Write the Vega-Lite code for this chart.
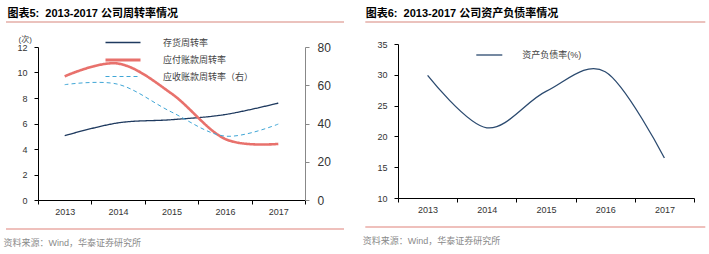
{
  "$schema": "https://vega.github.io/schema/vega-lite/v6.json",
  "background": "white",
  "padding": {"left": 3, "top": 8, "right": 0, "bottom": 0},
  "config": {
    "font": "Liberation Sans, Noto Sans CJK SC",
    "view": {"stroke": null},
    "axis": {"grid": false, "labelColor": "#333", "labelFontSize": 9, "domainColor": "#000", "tickColor": "#000", "tickSize": 4, "labelFont": "Liberation Sans, Noto Sans CJK SC"},
    "axisX": {"labelPadding": 3, "labelAngle": 0, "tickBand": "extent"},
    "axisY": {"labelPadding": 7},
    "legend": {"labelFont": "Liberation Sans, Noto Sans CJK SC", "labelFontSize": 9, "labelColor": "#444", "padding": 0}
  },
  "spacing": 17,
  "resolve": {"scale": {"color": "independent", "strokeDash": "independent"}, "legend": {"color": "independent", "strokeDash": "independent"}},
  "hconcat": [
    {
      "spacing": 12,
      "resolve": {"scale": {"color": "independent", "strokeDash": "independent"}, "legend": {"color": "independent", "strokeDash": "independent"}},
      "vconcat": [
        {
          "width": 306,
          "height": 0.5,
          "title": {"text": "图表5:\u00a0\u00a02013-2017 公司周转率情况", "anchor": "start", "fontSize": 11, "fontWeight": "bold", "color": "#000", "baseline": "alphabetic", "offset": -7, "dx": 2},
          "data": {"values": [{"panel": "图表5"}]},
          "mark": {"type": "rule", "color": "#D8857C", "strokeWidth": 1.2},
          "encoding": {
            "x": {"datum": -0.10458, "type": "quantitative", "scale": {"domain": [0, 1]}, "axis": null},
            "x2": {"datum": 1},
            "y": {"datum": 1, "type": "quantitative", "scale": {"domain": [0, 1]}, "axis": null}
          }
        },
        {
          "width": 267,
          "height": 153,
          "data": {"values": [
            {"year": "2013", "series": "存货周转率", "value": 5.05},
            {"year": "2014", "series": "存货周转率", "value": 6.05},
            {"year": "2015", "series": "存货周转率", "value": 6.3},
            {"year": "2016", "series": "存货周转率", "value": 6.7},
            {"year": "2017", "series": "存货周转率", "value": 7.6},
            {"year": "2013", "series": "应付账款周转率", "value": 9.7},
            {"year": "2014", "series": "应付账款周转率", "value": 10.7},
            {"year": "2015", "series": "应付账款周转率", "value": 8.35},
            {"year": "2016", "series": "应付账款周转率", "value": 4.8},
            {"year": "2017", "series": "应付账款周转率", "value": 4.4},
            {"year": "2013", "series": "应收账款周转率（右）", "value": 60.3},
            {"year": "2014", "series": "应收账款周转率（右）", "value": 60.5},
            {"year": "2015", "series": "应收账款周转率（右）", "value": 46},
            {"year": "2016", "series": "应收账款周转率（右）", "value": 33.4},
            {"year": "2017", "series": "应收账款周转率（右）", "value": 39.7}
          ]},
          "layer": [
            {
              "transform": [{"filter": "datum.series !== '应收账款周转率（右）'"}],
              "mark": {"type": "line", "interpolate": "cardinal"},
              "encoding": {
                "x": {"field": "year", "type": "ordinal", "scale": {"type": "band", "paddingInner": 0, "paddingOuter": 0}, "axis": {"title": null}},
                "y": {"field": "value", "type": "quantitative", "scale": {"domain": [0, 12]}, "axis": {"values": [0, 2, 4, 6, 8, 10, 12], "title": "(次)", "titleAngle": 0, "titleX": -20, "titleY": -8, "titleAlign": "left", "titleBaseline": "middle", "titleFontSize": 8, "titleFontWeight": "normal", "titleColor": "#444"}},
                "color": {"field": "series", "type": "nominal", "scale": {"domain": ["存货周转率", "应付账款周转率", "应收账款周转率（右）"], "range": ["#1F3A5F", "#E8716C", "#3FA6D6"]},
                  "legend": {"title": null, "orient": "none", "legendX": 80.5, "legendY": -9, "symbolType": "M-3.5,0H3.5", "symbolSize": 100, "labelOffset": 35.5, "rowPadding": 5.5,
                    "encode": {"symbols": {"update": {"strokeWidth": {"signal": "datum.value === '应付账款周转率' ? 3 : (datum.value === '存货周转率' ? 1.3 : 1)"}}}}}},
                "strokeDash": {"field": "series", "type": "nominal", "scale": {"domain": ["存货周转率", "应付账款周转率", "应收账款周转率（右）"], "range": [[1, 0], [1, 0], [4, 3]]}},
                "strokeWidth": {"condition": {"test": "datum.series === '应付账款周转率'", "value": 2.6}, "value": 1.3}
              }
            },
            {
              "transform": [{"filter": "datum.series === '应收账款周转率（右）'"}],
              "mark": {"type": "line", "interpolate": "cardinal", "strokeWidth": 1},
              "encoding": {
                "x": {"field": "year", "type": "ordinal", "scale": {"type": "band", "paddingInner": 0, "paddingOuter": 0}, "axis": {"title": null}},
                "y": {"field": "value", "type": "quantitative", "scale": {"domain": [0, 80]}, "axis": {"orient": "right", "values": [0, 20, 40, 60, 80], "title": null, "labelFontSize": 12, "labelPadding": 8, "domainColor": "#888", "tickColor": "#888"}},
                "color": {"field": "series", "type": "nominal", "scale": {"domain": ["存货周转率", "应付账款周转率", "应收账款周转率（右）"], "range": ["#1F3A5F", "#E8716C", "#3FA6D6"]}},
                "strokeDash": {"field": "series", "type": "nominal", "scale": {"domain": ["存货周转率", "应付账款周转率", "应收账款周转率（右）"], "range": [[1, 0], [1, 0], [4, 3]]}}
              }
            }
          ],
          "resolve": {"scale": {"y": "independent"}}
        },
        {
          "width": 306,
          "height": 1,
          "title": {"text": "资料来源：Wind，华泰证券研究所", "orient": "bottom", "anchor": "start", "fontSize": 9, "fontWeight": "normal", "color": "#8A8A8A", "offset": 8.5, "dx": -2},
          "data": {"values": [{"panel": "图表5"}]},
          "mark": {"type": "rule", "color": "#E0817A", "strokeWidth": 1.2},
          "encoding": {
            "x": {"datum": -0.10458, "type": "quantitative", "scale": {"domain": [0, 1]}, "axis": null},
            "x2": {"datum": 1},
            "y": {"datum": 1, "type": "quantitative", "scale": {"domain": [0, 1]}, "axis": null}
          }
        }
      ]
    },
    {
      "spacing": 12,
      "resolve": {"scale": {"color": "independent"}, "legend": {"color": "independent"}},
      "vconcat": [
        {
          "width": 307.3,
          "height": 6,
          "title": {"text": "图表6:\u00a0\u00a02013-2017 公司资产负债率情况", "anchor": "start", "fontSize": 11, "fontWeight": "bold", "color": "#000", "baseline": "alphabetic", "offset": -7, "dx": 1},
          "data": {"values": [{"panel": "图表6"}]},
          "mark": {"type": "rule", "color": "#D8857C", "strokeWidth": 1.2},
          "encoding": {
            "x": {"datum": -0.10641, "type": "quantitative", "scale": {"domain": [0, 1]}, "axis": null},
            "x2": {"datum": 1},
            "y": {"datum": 1, "type": "quantitative", "scale": {"domain": [0, 1]}, "axis": null}
          }
        },
        {
          "width": 296,
          "height": 154,
          "data": {"values": [
            {"year": "2013", "series": "资产负债率(%)", "value": 29.9},
            {"year": "2014", "series": "资产负债率(%)", "value": 21.4},
            {"year": "2015", "series": "资产负债率(%)", "value": 27.3},
            {"year": "2016", "series": "资产负债率(%)", "value": 30.5},
            {"year": "2017", "series": "资产负债率(%)", "value": 16.5}
          ]},
          "mark": {"type": "line", "interpolate": "cardinal", "strokeWidth": 1.3},
          "encoding": {
            "x": {"field": "year", "type": "ordinal", "scale": {"type": "band", "paddingInner": 0, "paddingOuter": 0}, "axis": {"title": null}},
            "y": {"field": "value", "type": "quantitative", "scale": {"domain": [10, 35]}, "axis": {"values": [10, 15, 20, 25, 30, 35], "title": null}},
            "color": {"field": "series", "type": "nominal", "scale": {"range": ["#2B4A6F"]},
              "legend": {"title": null, "orient": "none", "legendX": 85.3, "legendY": 5, "symbolType": "M-2.6,0H2.6", "symbolSize": 100, "symbolStrokeWidth": 1.3, "labelOffset": 27}}
          }
        },
        {
          "width": 307.3,
          "height": 1,
          "title": {"text": "资料来源：Wind，华泰证券研究所", "orient": "bottom", "anchor": "start", "fontSize": 9, "fontWeight": "normal", "color": "#8A8A8A", "offset": 8.5, "dx": -2},
          "data": {"values": [{"panel": "图表6"}]},
          "mark": {"type": "rule", "color": "#E0817A", "strokeWidth": 1.2},
          "encoding": {
            "x": {"datum": -0.10641, "type": "quantitative", "scale": {"domain": [0, 1]}, "axis": null},
            "x2": {"datum": 1},
            "y": {"datum": 1, "type": "quantitative", "scale": {"domain": [0, 1]}, "axis": null}
          }
        }
      ]
    }
  ]
}
